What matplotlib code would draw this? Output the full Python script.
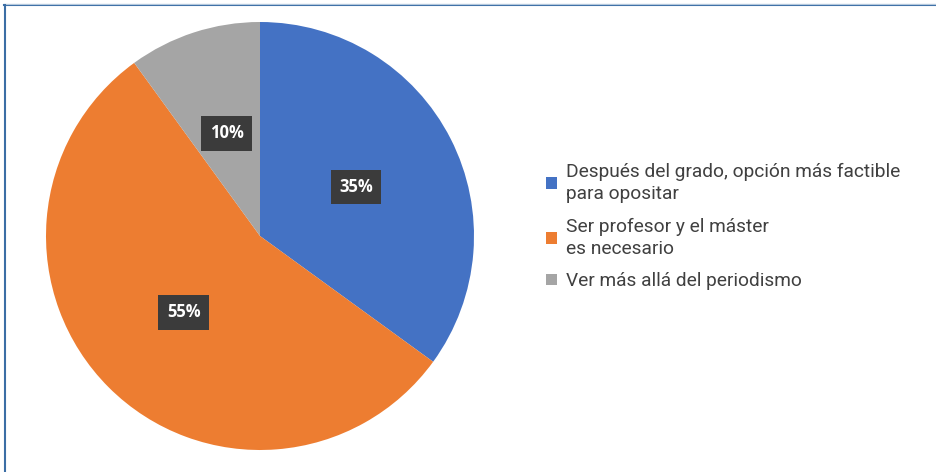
import matplotlib
matplotlib.use("Agg")
import matplotlib.pyplot as plt
from matplotlib.lines import Line2D
from matplotlib.patches import Patch

categories = ["Después del grado, opción más factible\npara opositar",
              "Ser profesor y el máster\nes necesario",
              "Ver más allá del periodismo"]
values = [35, 55, 10]
colors = ["#4472c4", "#ed7d31", "#a5a5a5"]

W, H = 937, 472
fig = plt.figure(figsize=(W/100, H/100), dpi=100)
fig.patch.set_facecolor("white")

# pie axes: center (260,236), radius ~214
r = 214
cx, cy = 260, 236
ax = fig.add_axes([(cx - r)/W, 1 - (cy + r)/H, 2*r/W, 2*r/H])
wedges, texts = ax.pie(values, colors=colors, startangle=90, counterclock=False,
                       labels=[f"{v}%" for v in values], labeldistance=0.505,
                       wedgeprops=dict(linewidth=0))
for t in texts:
    t.set_ha("center"); t.set_va("center")
    t.set_color("white"); t.set_fontweight("bold"); t.set_fontsize(12)
    t.set_fontfamily("Open Sans")
    t.set_bbox(dict(boxstyle="square,pad=0.5", facecolor="#3b3b3b", edgecolor="none"))
ax.set_aspect("equal")
ax.set_xlim(-1, 1); ax.set_ylim(-1, 1)

handles = [Patch(facecolor=c, edgecolor="none") for c in colors]
leg = fig.legend(handles, categories, loc="upper left",
                 bbox_to_anchor=(529/W, 1 - 145.5/H), frameon=False,
                 prop=dict(family="Roboto", size=13.8), handlelength=0.55,
                 handleheight=0.55, handletextpad=0.5, labelspacing=0.76)
for t in leg.get_texts():
    t.set_color("#404040")
    t.set_linespacing(1.3)

# border lines at top and left
fig.add_artist(Line2D([4/W, 1], [1 - 5/H, 1 - 5/H], transform=fig.transFigure,
                      color="#3b6ea5", linewidth=1.5))
fig.add_artist(Line2D([4/W, 1], [1 - 3.5/H, 1 - 3.5/H], transform=fig.transFigure,
                      color="#b4c8dc", linewidth=0.8))
fig.add_artist(Line2D([5/W, 5/W], [0, 1 - 5/H], transform=fig.transFigure,
                      color="#3b6ea5", linewidth=1.5))

fig.savefig("out.png", dpi=100)
